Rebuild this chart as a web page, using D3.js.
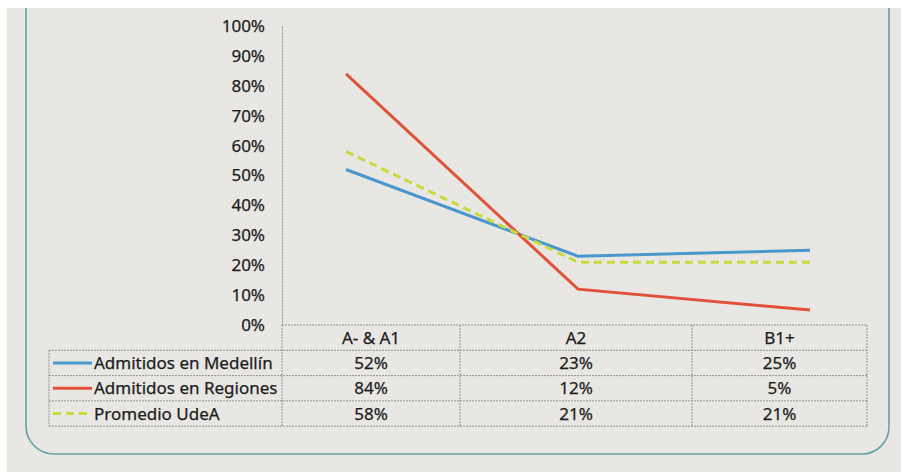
<!DOCTYPE html>
<html>
<head>
	<meta charset="utf-8">
	<title>D3</title>
	<script src="https://d3js.org/d3.v7.min.js"></script>
	<style>
		html, body {
			margin: 0;
			background: #fff;
		}
		svg text {
			font-family: "Noto Sans", sans-serif;
			fill: #1c1c1c;
			stroke: #1c1c1c;
			stroke-width: 0.25px;
		}
	</style>
</head>
<body>
	<svg id="svg"></svg>
	<script>
		const categories = ["A- & A1", "A2", "B1+"];
		const seriesNames = ["Admitidos en Medellín", "Admitidos en Regiones", "Promedio UdeA"];
		const medellin = [52, 23, 25];
		const regiones = [84, 12, 5];
		const promedio = [58, 21, 21];
		const yTicks = [0, 10, 20, 30, 40, 50, 60, 70, 80, 90, 100];

		const width = 908, height = 472;

		// layout
		const plot = { left: 282, top: 26, bottom: 325 };
		const colEdges = [282, 460, 692, 867];
		const legendLeft = 49;
		const rowH = 25.3;
		const fontSize = 17;

		const series = [
			{ name: seriesNames[0], values: medellin, color: "#4a97d0", dash: null },
			{ name: seriesNames[1], values: regiones, color: "#e2523a", dash: null },
			{ name: seriesNames[2], values: promedio, color: "#c6dc3c", dash: "8,5" }
		];

		const svg = d3.select("#svg")
		.attr("width", width)
		.attr("height", height);

		// paper
		svg.append("rect")
		.attr("x", 7).attr("y", 8)
		.attr("width", 894).attr("height", height - 8)
		.attr("fill", "#e8e7e3");

		// rounded frame
		svg.append("path")
		.attr("d", "M26,8 L26,426 A28,28 0 0 0 54,454 L862,454 A27,27 0 0 0 889,427 L889,8")
		.attr("fill", "none")
		.attr("stroke", "#66a2aa")
		.attr("stroke-width", 1.6);

		const scaleY = d3.scaleLinear()
		.domain([0, 100])
		.range([plot.bottom, plot.top]);

		const scaleX = d3.scalePoint()
		.domain(categories)
		.range([346, 810]);

		// y axis
		const yAxis = svg.append("g")
		.attr("transform", `translate(${plot.left},0)`)
		.call(d3.axisLeft(scaleY).tickValues(yTicks).tickSize(0).tickPadding(17).tickFormat(d => d + "%"));
		yAxis.select(".domain")
		.attr("stroke", "#8f8f8f")
		.attr("stroke-dasharray", "2,1");
		yAxis.selectAll("text")
		.attr("font-size", fontSize)
		.attr("font-family", "Noto Sans")
		.attr("fill", "#1c1c1c");

		// lines
		const line = d3.line()
		.x((d, i) => scaleX(categories[i]))
		.y(d => scaleY(d));

		svg.append("g")
		.selectAll("path")
		.data(series)
		.enter()
		.append("path")
		.attr("fill", "none")
		.attr("stroke", d => d.color)
		.attr("stroke-width", 3)
		.attr("stroke-dasharray", d => d.dash)
		.attr("d", d => line(d.values));

		// data table
		const table = svg.append("g")
		.attr("stroke", "#929292")
		.attr("stroke-width", 1)
		.attr("stroke-dasharray", "2,1");

		const rowY = i => plot.bottom + rowH * i;

		// horizontal rules
		table.append("line")
		.attr("x1", colEdges[0]).attr("x2", colEdges[3])
		.attr("y1", rowY(0)).attr("y2", rowY(0));
		[1, 2, 3, 4].forEach(i => {
			table.append("line")
			.attr("x1", legendLeft).attr("x2", colEdges[3])
			.attr("y1", rowY(i)).attr("y2", rowY(i));
		});
		// vertical rules
		table.append("line")
		.attr("x1", legendLeft).attr("x2", legendLeft)
		.attr("y1", rowY(1)).attr("y2", rowY(4));
		colEdges.forEach(x => {
			table.append("line")
			.attr("x1", x).attr("x2", x)
			.attr("y1", rowY(0)).attr("y2", rowY(4));
		});

		const colCenter = i => (colEdges[i] + colEdges[i + 1]) / 2;

		// header row
		svg.append("g")
		.selectAll("text")
		.data(categories)
		.enter()
		.append("text")
		.attr("x", (d, i) => colCenter(i))
		.attr("y", rowY(0.5))
		.attr("dy", "0.35em")
		.attr("text-anchor", "middle")
		.attr("font-size", fontSize)
		.text(d => d);

		// series rows
		series.forEach((s, r) => {
			const cy = rowY(r + 1.5);
			const g = svg.append("g");

			g.append("line")
			.attr("x1", 53).attr("x2", 92)
			.attr("y1", cy).attr("y2", cy)
			.attr("stroke", s.color)
			.attr("stroke-width", 3)
			.attr("stroke-dasharray", s.dash);

			g.append("text")
			.attr("x", 94)
			.attr("y", cy)
			.attr("dy", "0.35em")
			.attr("font-size", fontSize)
			.text(s.name);

			g.selectAll("text.val")
			.data(s.values)
			.enter()
			.append("text")
			.attr("class", "val")
			.attr("x", (d, i) => colCenter(i))
			.attr("y", cy)
			.attr("dy", "0.35em")
			.attr("text-anchor", "middle")
			.attr("font-size", fontSize)
			.text(d => d + "%");
		});
	</script>
</body>
</html>
